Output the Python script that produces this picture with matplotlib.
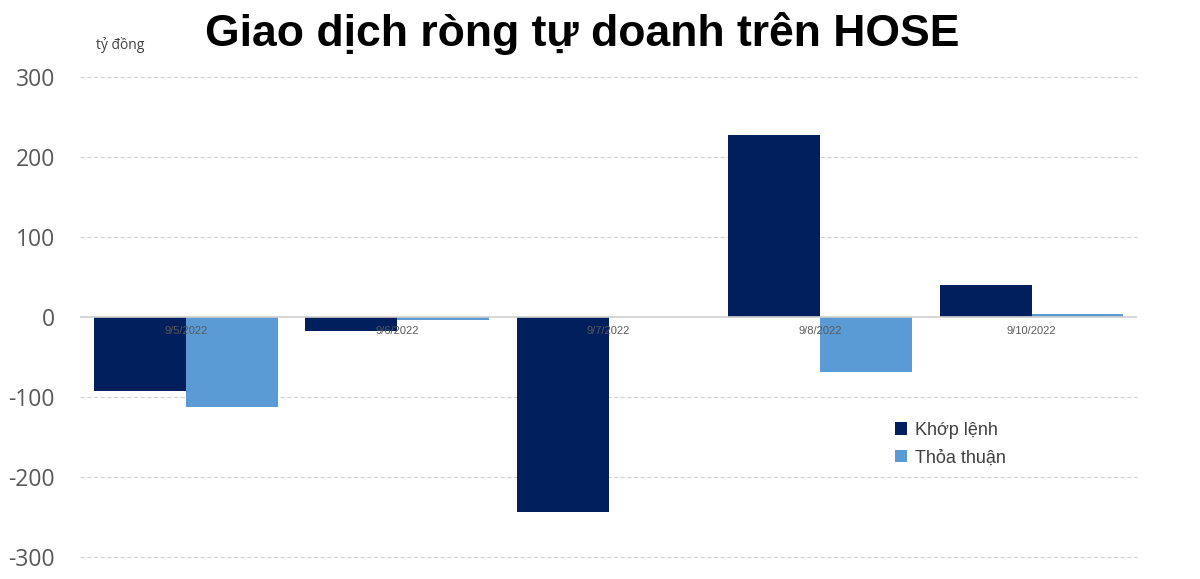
import numpy as np
import matplotlib
matplotlib.use("Agg")
import matplotlib.pyplot as plt

# du lieu
dates = ["9/5/2022", "9/6/2022", "9/7/2022", "9/8/2022", "9/10/2022"]
khop_lenh = [-92, -17, -244, 228, 40]
thoa_thuan = [-113, -4, 0, -69, 4]
y_ticks = [-300, -200, -100, 0, 100, 200, 300]

dark = "#001f5c"
light = "#5b9bd5"

plt.rcParams['font.family'] = ['Open Sans', 'DejaVu Sans']

fig = plt.figure(figsize=(12, 5.79), dpi=100)
ax = fig.add_axes([0.0667, 0.038, 0.881, 0.829])

x = np.arange(len(dates))
w = 0.435
ax.bar(x - w/2, khop_lenh, w, color=dark, label="Khớp lệnh", zorder=3)
ax.bar(x + w/2, thoa_thuan, w, color=light, label="Thỏa thuận", zorder=3)

ax.set_xlim(-0.5, len(dates) - 0.5)
ax.set_ylim(-300, 300)
ax.set_yticks(y_ticks)
ax.set_yticklabels([str(v) for v in y_ticks], fontsize=16.5, color="#595959")
ax.tick_params(axis="y", length=0, pad=18)
ax.set_xticks([])
for s in ax.spines.values():
    s.set_visible(False)

for v in y_ticks:
    if v == 0:
        ax.axhline(v, color="#d0d0d0", lw=1.2, zorder=4)
    else:
        ax.axhline(v, color="#d0d0d0", lw=0.8, ls=(0, (4, 2)), zorder=1, clip_on=False)

# nhan ngay nam tren truc 0
for i, d in enumerate(dates):
    ax.text(i, -17, d, ha="center", va="center", fontsize=8, color="#595959",
            family="Liberation Sans", zorder=5)

fig.text(0.08, 0.922, "tỷ đồng", fontsize=10, color="#404040", ha="left", va="center")
fig.text(0.485, 0.942, "Giao dịch ròng tự doanh trên HOSE", fontsize=32,
         fontweight="bold", family="Liberation Sans", ha="center", va="center")

ax.legend(loc="upper left", bbox_to_anchor=(0.732, 0.30), bbox_transform=fig.transFigure,
          frameon=False, handlelength=0.7, handleheight=0.7,
          handletextpad=0.4, labelspacing=0.6, labelcolor="#404040",
          prop={"family": "Liberation Sans", "size": 13})

fig.savefig("out.png", dpi=100)
